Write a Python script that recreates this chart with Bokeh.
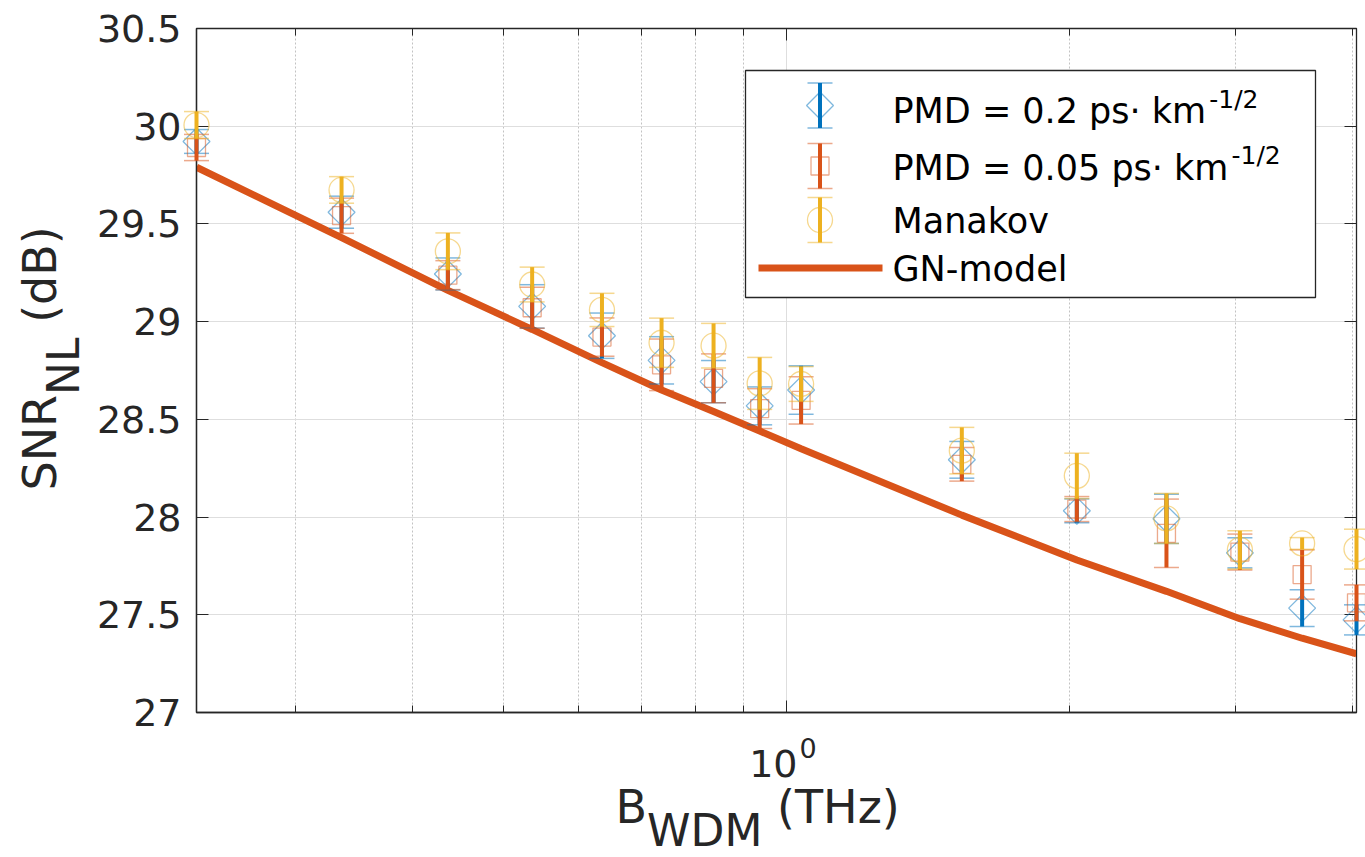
import math
from bokeh.plotting import figure
from bokeh.models import Range1d, FixedTicker, LogAxis, LinearAxis
from bokeh.core.properties import value
from bokeh.embed import file_html
from bokeh.resources import INLINE

# ---------------- data ----------------
bw_thz = [0.2355, 0.336, 0.436, 0.536, 0.636, 0.736, 0.836, 0.936, 1.036,
          1.536, 2.036, 2.536, 3.036, 3.536, 4.04]

snr_pmd02 = [29.922, 29.56, 29.244, 29.078, 28.928, 28.802, 28.693, 28.569, 28.65,
             28.293, 28.032, 27.991, 27.817, 27.534, 27.474]
err_pmd02 = [0.061, 0.082, 0.082, 0.111, 0.116, 0.121, 0.108, 0.097, 0.124,
             0.094, 0.061, 0.126, 0.077, 0.094, 0.077]

snr_pmd005 = [29.891, 29.542, 29.238, 29.071, 28.921, 28.779, 28.71, 28.555, 28.597,
              28.27, 28.041, 27.917, 27.821, 27.706, 27.561]
err_pmd005 = [0.067, 0.09, 0.074, 0.105, 0.098, 0.132, 0.125, 0.102, 0.121,
              0.086, 0.064, 0.175, 0.092, 0.126, 0.092]

snr_manakov = [30.006, 29.674, 29.36, 29.19, 29.06, 28.892, 28.877, 28.684, 28.681,
               28.34, 28.211, 27.993, 27.832, 27.865, 27.836]
err_manakov = [0.069, 0.068, 0.094, 0.089, 0.085, 0.126, 0.114, 0.133, 0.089,
               0.119, 0.116, 0.128, 0.098, 0.03, 0.102]

snr_gn = [29.79, 29.43, 29.16, 28.96, 28.79, 28.65, 28.54, 28.44, 28.35,
          28.01, 27.78, 27.62, 27.48, 27.38, 27.30]

y_ticks = [27, 27.5, 28, 28.5, 29, 29.5, 30, 30.5]
y_tick_labels = ["27", "27.5", "28", "28.5", "29", "29.5", "30", "30.5"]
x_major_ticks = [1]
x_major_label = ("10", "0")          # 10^0
x_minor_ticks = [0.3, 0.4, 0.5, 0.6, 0.7, 0.8, 0.9, 2, 3, 4]
y_lim = (27, 30.5)

series_names = ["PMD = 0.2 ps\u00b7 km", "PMD = 0.05 ps\u00b7 km", "Manakov", "GN-model"]
series_sup = "-1/2"
x_title = ("B", "WDM", "(THz)")
y_title = ("SNR", "NL", "(dB)")

# ---------------- style ----------------
BLUE, RED, YEL = "#0072BD", "#D95319", "#EDB120"
INK = "#262626"
FONT = "DejaVu Sans"

W, H = 1365, 857
FL, FR, FT, FB = 196, 1356, 28, 712      # frame edges in page pixels


def xd(px):
    lo, hi = math.log10(bw_thz[0]), math.log10(bw_thz[-1])
    return 10 ** (lo + (px - FL) / (FR - FL) * (hi - lo))


def yd(py):
    return y_lim[0] + (FB - py) / (FB - FT) * (y_lim[1] - y_lim[0])


p = figure(width=W, height=H, x_axis_type="log",
           x_range=Range1d(bw_thz[0], bw_thz[-1]), y_range=Range1d(*y_lim),
           output_backend="svg", toolbar_location=None,
           min_border_left=FL, min_border_right=W - FR,
           min_border_top=FT, min_border_bottom=H - FB)
p.background_fill_color = "white"
p.border_fill_color = "white"
p.outline_line_color = INK
p.outline_line_width = 1.3

xt = FixedTicker(ticks=x_major_ticks, minor_ticks=x_minor_ticks)
yt = FixedTicker(ticks=y_ticks, minor_ticks=[])

xa = p.xaxis[0]
xa.ticker = xt
xa.major_label_text_font_size = "1px"
xa.major_label_text_color = None
xa.major_label_standoff = 0
xa.major_tick_in, xa.major_tick_out = 12, 0
xa.minor_tick_in, xa.minor_tick_out = 7, 0
xa.axis_line_color = INK
xa.major_tick_line_color = INK
xa.minor_tick_line_color = INK
xa.axis_line_width = 1.3

ya = p.yaxis[0]
ya.ticker = yt
ya.major_label_overrides = dict(zip(y_ticks, y_tick_labels))
ya.major_label_text_font = FONT
ya.major_label_text_font_size = "38px"
ya.major_label_text_color = INK
ya.major_label_standoff = 15
ya.major_tick_in, ya.major_tick_out = 12, 0
ya.minor_tick_line_color = None
ya.axis_line_color = INK
ya.major_tick_line_color = INK
ya.axis_line_width = 1.3

top = LogAxis(ticker=xt, major_label_text_font_size="1px", major_label_text_color=None,
              major_label_standoff=0,
              major_tick_in=12, major_tick_out=0, minor_tick_in=7, minor_tick_out=0,
              axis_line_color=INK, major_tick_line_color=INK, minor_tick_line_color=INK)
p.add_layout(top, "above")
right = LinearAxis(ticker=yt, major_label_text_font_size="1px", major_label_text_color=None,
                   major_label_standoff=0,
                   major_tick_in=12, major_tick_out=0, minor_tick_line_color=None,
                   axis_line_color=INK, major_tick_line_color=INK)
p.add_layout(right, "right")

p.xgrid.ticker = xt
p.xgrid.grid_line_color = "#dedede"
p.xgrid.minor_grid_line_color = "#c2c2c2"
p.xgrid.minor_grid_line_dash = "2 2"
p.ygrid.ticker = yt
p.ygrid.grid_line_color = "#dedede"

# ---------------- error-bar series ----------------
def errorbar(vals, errs, color, marker, size, angle=0.0):
    lo = [v - e for v, e in zip(vals, errs)]
    hi = [v + e for v, e in zip(vals, errs)]
    p.scatter(x=bw_thz + bw_thz, y=lo + hi, marker="dash", size=25,
              line_color=color, line_width=1.5, line_alpha=0.5, level="overlay")
    p.scatter(x=bw_thz, y=vals, marker=marker, size=size, angle=angle,
              fill_color=None, line_color=color, line_width=1.3, line_alpha=0.5,
              level="overlay")
    p.segment(x0=bw_thz, y0=lo, x1=bw_thz, y1=hi, line_color=color, line_width=4,
              level="overlay")


errorbar(snr_pmd02, err_pmd02, BLUE, "square", 19, math.pi / 4)
errorbar(snr_pmd005, err_pmd005, RED, "square", 18)
errorbar(snr_manakov, err_manakov, YEL, "circle", 25)
p.line(x=bw_thz, y=snr_gn, line_color=RED, line_width=7)

# ---------------- legend ----------------
p.quad(left=[xd(745)], right=[xd(1315)], top=[yd(70)], bottom=[yd(297)],
       fill_color="white", line_color=INK, line_width=1.3)
icon_x = 819.5
icons = [(105, BLUE, "square", 19, math.pi / 4), (165.5, RED, "square", 18, 0.0),
         (219.5, YEL, "circle", 25, 0.0)]
for cy, col, mk, sz, ang in icons:
    p.scatter(x=[xd(icon_x)] * 2, y=[yd(cy - 22.5), yd(cy + 22.5)], marker="dash", size=25,
              line_color=col, line_width=1.5, line_alpha=0.5)
    p.scatter(x=[xd(icon_x)], y=[yd(cy)], marker=mk, size=sz, angle=ang, fill_color=None,
              line_color=col, line_width=1.3, line_alpha=0.5)
    p.segment(x0=[xd(icon_x)], y0=[yd(cy - 22.5)], x1=[xd(icon_x)], y1=[yd(cy + 22.5)],
              line_color=col, line_width=4)
p.line(x=[xd(758), xd(882)], y=[yd(267.5)] * 2, line_color=RED, line_width=7)


def txt(px, py, s, size, color=INK, align="left", angle=0.0):
    p.text(x=[xd(px)], y=[yd(py)], text=[s], text_font=value(FONT),
           text_font_size=value(f"{size}px"), text_color=color, text_align=align,
           text_baseline="middle", angle=angle, level="overlay")


LEG_FS = 35
centers = [110.5, 167.5, 220.5, 268]
for name, cy in zip(series_names, centers):
    txt(892, cy, name, LEG_FS, color="black")
sup_x = [892 + 8.963 * LEG_FS + 3, 892 + 9.599 * LEG_FS + 3]
for sx, cy in zip(sup_x, [98.5, 155]):
    txt(sx, cy, series_sup, 25, color="black")

# ---------------- tick label 10^0 ----------------
txt(797, 762.5, x_major_label[0], 38, align="right")
txt(799, 747.5, x_major_label[1], 27)

# ---------------- axis titles ----------------
LAB, SUB = 46, 44
SPACE = 0.318 * LAB
xb, xrow = 615, 806
txt(xb, xrow, x_title[0], LAB)
txt(xb + 0.686 * LAB, xrow + 24, x_title[1], SUB)
txt(xb + 0.686 * LAB + 2.622 * SUB + SPACE, xrow, x_title[2], LAB)

yb = 490
txt(39.5, yb, y_title[0], LAB, angle=math.pi / 2)
txt(63, yb - 2.078 * LAB, y_title[1], SUB, angle=math.pi / 2)
txt(39.5, yb - 2.078 * LAB - 1.305 * SUB - SPACE, y_title[2], LAB, angle=math.pi / 2)

open("out.html", "w").write(file_html(p, INLINE))
